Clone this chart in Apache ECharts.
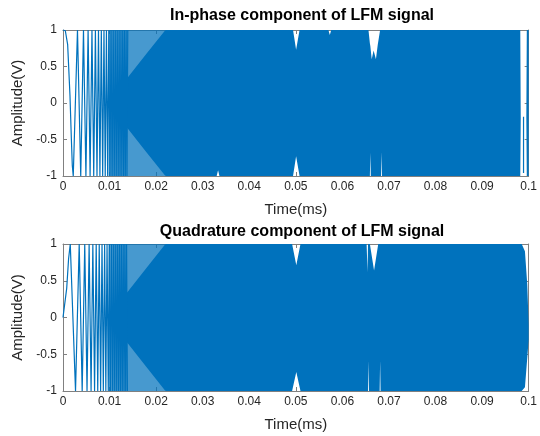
<!DOCTYPE html>
<html><head><meta charset="utf-8">
<script src="https://cdn.jsdelivr.net/npm/echarts@6.0.0/dist/echarts.min.js"></script>
<style>html,body{margin:0;padding:0;background:#fff}#c{width:540px;height:436px}</style>
</head><body><div id="c"></div>
<script>
// ---- Data (time in ms, amplitude in V) ----
const titles = ['In-phase component of LFM signal', 'Quadrature component of LFM signal'];
const xName = 'Time(ms)';
const yName = 'Amplitude(V)';

// In-phase: resolvable oscillation (first lobe + extrema) at the start
const inT = [0, 0.0005, 0.001, 0.0015, 0.0018, 0.002,
  0.0022, 0.00311, 0.00381, 0.0044, 0.00492, 0.00539, 0.00582, 0.00622, 0.0066, 0.00696,
  0.0073, 0.00762, 0.00793, 0.00823, 0.00852, 0.0088, 0.00907, 0.00933, 0.00959, 0.00984,
  0.01008, 0.01032, 0.01055, 0.01078, 0.011, 0.01122, 0.01143, 0.01164, 0.01185, 0.01205,
  0.01225, 0.01245, 0.01264, 0.01283, 0.01302, 0.0132, 0.01338, 0.01356, 0.01374, 0.01391];
const inV = [1, 0.99, 0.8, 0.1, -0.5, -0.86,
  -1, 1, -1, 1, -1, 1, -1, 1, -1, 1,
  -1, 1, -1, 1, -1, 1, -1, 1, -1, 1,
  -1, 1, -1, 1, -1, 1, -1, 1, -1, 1,
  -1, 1, -1, 1, -1, 1, -1, 1, -1, 1];
// In-phase: envelope of the dense part
const inEnvT = [0.0098, 0.0139, 0.018, 0.022, 0.0330, 0.0333, 0.0336, 0.0494, 0.05006, 0.0508,
  0.0570, 0.0573, 0.0576, 0.0656, 0.0659, 0.0660, 0.0661, 0.0663, 0.0667, 0.0672, 0.0676, 0.0681,
  0.0683, 0.0684, 0.0685, 0.0982, 0.0983, 0.0995, 0.0996, 0.1];
const inEnvUp = [0.03, 0.35, 0.68, 1, 1, 1, 1, 1, 0.73, 1,
  1, 0.93, 1, 1, 0.82, 0.78, 0.72, 0.6, 0.72, 0.6, 0.8, 1,
  1, 1, 1, 1, -0.2, -0.2, 1, 1];
const inEnvLo = [-0.03, -0.35, -0.68, -1, -1, -0.92, -1, -1, -0.73, -1,
  -1, -1, -1, -1, -1, -0.68, -1, -1, -1, -1, -1, -1,
  -1, -0.67, -1, -1, -0.2, -0.2, -1, -1];
const inTailT = [0.0989, 0.0989];
const inTailV = [-0.19, -0.96];

// Quadrature: resolvable oscillation at the start
const quT = [0, 0.0008, 0.0012,
  0.00156, 0.00269, 0.00348, 0.00412, 0.00467, 0.00516, 0.00561, 0.00603, 0.00641, 0.00678,
  0.00713, 0.00746, 0.00778, 0.00808, 0.00838, 0.00866, 0.00894, 0.0092, 0.00946, 0.00972,
  0.00996, 0.0102, 0.01044, 0.01067, 0.01089, 0.01111, 0.01133, 0.01154, 0.01175, 0.01195,
  0.01215, 0.01235, 0.01254, 0.01273, 0.01292, 0.01311, 0.01329, 0.01347, 0.01365, 0.01383];
const quV = [0, 0.4, 0.8,
  1, -1, 1, -1, 1, -1, 1, -1, 1, -1,
  1, -1, 1, -1, 1, -1, 1, -1, 1, -1,
  1, -1, 1, -1, 1, -1, 1, -1, 1, -1,
  1, -1, 1, -1, 1, -1, 1, -1, 1, -1];
// Quadrature: envelope of the dense part
const quEnvT = [0.0098, 0.0139, 0.018, 0.022, 0.0492, 0.0501, 0.0510, 0.0652, 0.0654, 0.0655, 0.0656, 0.0657,
  0.0659, 0.0668, 0.0677, 0.0680, 0.0681, 0.0682, 0.0985, 0.0992, 0.0997, 0.1];
const quEnvUp = [0.03, 0.35, 0.68, 1, 1, 0.71, 1, 1, 0.62, 1, 1, 1,
  1, 0.64, 1, 1, 1, 1, 1, 0.9, 0.45, -0.1];
const quEnvLo = [-0.03, -0.35, -0.68, -1, -1, -0.74, -1, -1, -1, -1, -0.59, -1,
  -1, -1, -1, -1, -0.59, -1, -1, -0.95, -0.55, -0.3];

// transition zone (partly covered by lines)
const fadeT = [0.0098, 0.0139, 0.022];
const fadeUp = [1, 1, 1];
const fadeLo = [-1, -1, -1];

const xMin = 0, xMax = 0.1, xStep = 0.01;
const yMin = -1, yMax = 1, yStep = 0.5;

// ---- Chart ----
const BLUE = '#0072BD';
const FADE = 'rgba(0,114,189,0.72)';
const FONT = 'Liberation Sans';
const chart = echarts.init(document.getElementById('c'), null, {renderer: 'canvas'});

const grids = [
  {left: 63, top: 30, width: 468, height: 146},
  {left: 63, top: 244, width: 468, height: 147}
];
const frameColor = '#808080';
function xAx(gi, isTop) {
  return {type: 'value', gridIndex: gi, position: isTop ? 'top' : 'bottom', min: xMin, max: xMax, interval: xStep,
    axisLine: {show: true, onZero: false, lineStyle: {color: frameColor, width: 1}},
    axisTick: {show: true, inside: true, length: 4, lineStyle: {color: frameColor}},
    axisLabel: {show: !isTop, color: '#262626', fontSize: 12, fontFamily: FONT, margin: 5},
    splitLine: {show: false},
    name: isTop ? '' : xName, nameLocation: 'middle', nameGap: 26,
    nameTextStyle: {color: '#262626', fontSize: 15, fontFamily: FONT}};
}
function yAx(gi, isRight) {
  return {type: 'value', gridIndex: gi, position: isRight ? 'right' : 'left', min: yMin, max: yMax, interval: yStep,
    axisLine: {show: true, onZero: false, lineStyle: {color: frameColor, width: 1}},
    axisTick: {show: true, inside: true, length: 4, lineStyle: {color: frameColor}},
    axisLabel: {show: !isRight, color: '#262626', fontSize: 12, fontFamily: FONT, margin: 6},
    splitLine: {show: false},
    name: isRight ? '' : yName, nameLocation: 'middle', nameGap: 31, nameRotate: 90,
    nameTextStyle: {color: '#262626', fontSize: 15, fontFamily: FONT}};
}
function band(ax, T, U, L, color, z) {
  return {type: 'custom', xAxisIndex: ax, yAxisIndex: ax, data: [[T[0], 0]], z: z, silent: true, animation: false,
    renderItem: function (params, api) {
      const pts = [];
      for (let i = 0; i < T.length; i++) pts.push(api.coord([T[i], U[i]]));
      for (let i = T.length - 1; i >= 0; i--) pts.push(api.coord([T[i], L[i]]));
      return {type: 'polygon', shape: {points: pts}, style: {fill: color}};
    }};
}
function line(ax, T, V, z) {
  return {type: 'line', xAxisIndex: ax, yAxisIndex: ax, data: T.map((t, i) => [t, V[i]]),
    symbol: 'none', showSymbol: false, z: z, silent: true, animation: false,
    lineStyle: {color: BLUE, width: 1.2}};
}

chart.setOption({
  animation: false,
  backgroundColor: '#fff',
  title: [
    {text: titles[0], left: 297, top: 3, textAlign: 'center',
      textStyle: {fontSize: 16, fontWeight: 'bold', color: '#000', fontFamily: FONT}},
    {text: titles[1], left: 297, top: 219, textAlign: 'center',
      textStyle: {fontSize: 16, fontWeight: 'bold', color: '#000', fontFamily: FONT}}
  ],
  grid: grids,
  xAxis: [xAx(0, false), xAx(0, true), xAx(1, false), xAx(1, true)],
  yAxis: [yAx(0, false), yAx(0, true), yAx(1, false), yAx(1, true)],
  series: [
    band(0, fadeT, fadeUp, fadeLo, FADE, 1),
    band(0, inEnvT, inEnvUp, inEnvLo, BLUE, 2),
    line(0, inT, inV, 3),
    line(0, inTailT, inTailV, 3),
    band(2, fadeT, fadeUp, fadeLo, FADE, 1),
    band(2, quEnvT, quEnvUp, quEnvLo, BLUE, 2),
    line(2, quT, quV, 3)
  ]
});
</script>
</body></html>
